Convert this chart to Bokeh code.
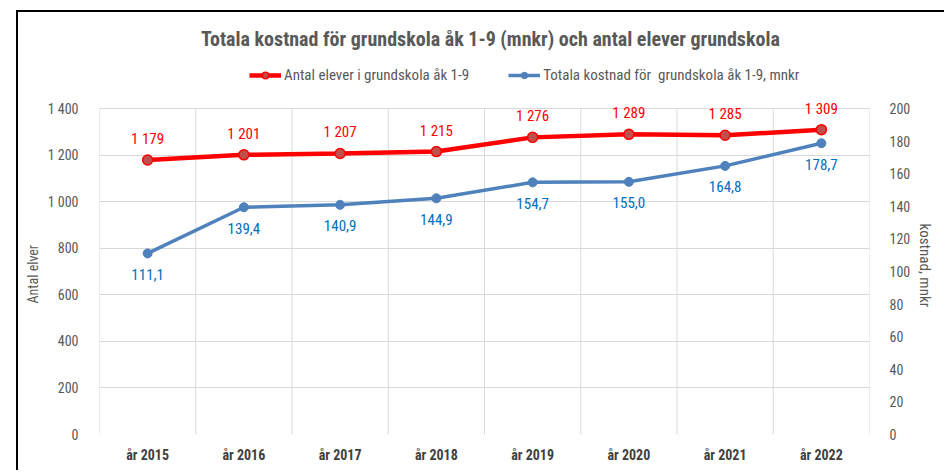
import math
from bokeh.plotting import figure
from bokeh.models import (Range1d, LinearAxis, FixedTicker, Legend, LegendItem,
                          Label, ColumnDataSource, Title)
from bokeh.embed import file_html
from bokeh.resources import INLINE
from bokeh.core.properties import value

years = ["år 2015", "år 2016", "år 2017", "år 2018", "år 2019", "år 2020", "år 2021", "år 2022"]
elever = [1179, 1201, 1207, 1215, 1276, 1289, 1285, 1309]
kostnad = [111.1, 139.4, 140.9, 144.9, 154.7, 155.0, 164.8, 178.7]
left_ticks = [0, 200, 400, 600, 800, 1000, 1200, 1400]
right_ticks = [0, 20, 40, 60, 80, 100, 120, 140, 160, 180, 200]
LEFT_MAX, RIGHT_MAX = 1400, 200

FONT = "Roboto Condensed"
GREY = "#595959"

# layout (pixels)
W, H = 928, 460
FRAME_H = 422          # frame from canvas top to axis baseline
PLOT_H = 326           # height of the 0..1400 value band
ymax_l = LEFT_MAX * FRAME_H / PLOT_H
ymax_r = RIGHT_MAX * FRAME_H / PLOT_H

n = len(years)
xs = [i + 0.5 for i in range(n)]
src = ColumnDataSource(dict(
    x=xs, elever=elever, kostnad=kostnad,
    el_lab=[f"{v:,}".replace(",", " ") for v in elever],
    ko_lab=[f"{v:.1f}".replace(".", ",") for v in kostnad],
))
bounds = list(range(n + 1))

p = figure(width=W, height=H, output_backend="svg", toolbar_location=None,
           x_range=Range1d(0, n), y_range=Range1d(0, ymax_l),
           min_border_left=80, min_border_right=69, min_border_top=0, min_border_bottom=38)
p.styles = {"margin-left": "16px", "margin-top": "10px",
            "border-left": "2px solid black", "border-top": "2px solid black"}
p.extra_y_ranges = {"k": Range1d(0, ymax_r)}
p.outline_line_color = None
p.background_fill_color = "white"
p.border_fill_color = "white"

# x axis
p.xaxis.ticker = FixedTicker(ticks=xs)
p.xaxis.major_label_overrides = {x: y for x, y in zip(xs, years)}
p.xaxis.major_label_text_font = FONT
p.xaxis.major_label_text_font_style = "bold"
p.xaxis.major_label_text_font_size = "14px"
p.xaxis.major_label_text_color = "#404040"
p.xaxis.major_label_standoff = 6
p.xaxis.axis_line_color = None
p.xaxis.major_tick_line_color = None
p.xaxis.minor_tick_line_color = None

# left axis
ax = p.yaxis[0]
ax.ticker = FixedTicker(ticks=left_ticks)
ax.major_label_overrides = {t: f"{t:,}".replace(",", " ") for t in left_ticks}
ax.major_label_text_font = FONT
ax.major_label_text_font_size = "14px"
ax.major_label_text_color = GREY
ax.axis_line_color = None
ax.major_tick_line_color = None
ax.minor_tick_line_color = None
ax.major_label_standoff = 15

# right axis
rax = LinearAxis(y_range_name="k", ticker=FixedTicker(ticks=right_ticks))
rax.major_label_text_font = FONT
rax.major_label_text_font_size = "14px"
rax.major_label_text_color = GREY
rax.axis_line_color = None
rax.major_tick_line_color = None
rax.minor_tick_line_color = None
rax.major_label_standoff = 14
p.add_layout(rax, "right")

# axis titles
p.add_layout(Title(text="Antal elver", align="left", offset=131, text_font=FONT,
                   text_font_size="14px", text_font_style="normal", text_color=GREY,
                   standoff=8), "left")
right_title = "kostnad, mnkr"
try:
    rax.axis_label_orientation = -math.pi / 2
    rax.axis_label = right_title + "\u00a0" * 38
    rax.axis_label_text_font = FONT
    rax.axis_label_text_font_size = "15px"
    rax.axis_label_text_font_style = "normal"
    rax.axis_label_text_color = GREY
    rax.axis_label_standoff = 12
except Exception:
    rax.axis_label = None
    p.add_layout(Title(text=right_title, align="right", offset=114, text_font=FONT,
                       text_font_size="15px", text_font_style="normal", text_color=GREY,
                       standoff=8), "right")

# grids
p.xgrid.visible = False
p.ygrid.grid_line_color = "#d9d9d9"
p.ygrid.ticker = FixedTicker(ticks=left_ticks)
p.segment(x0=bounds, x1=bounds, y0=[0] * len(bounds), y1=[LEFT_MAX] * len(bounds),
          line_color="#d9d9d9", line_width=1)

# series
r1 = p.line("x", "elever", source=src, line_color="#ff0000", line_width=4.5)
r1m = p.scatter("x", "elever", source=src, size=10, fill_color="#c0504d",
                line_color="#ff0000", line_width=1.5)
r2 = p.line("x", "kostnad", source=src, y_range_name="k", line_color="#4f81bd", line_width=3.5)
r2m = p.scatter("x", "kostnad", source=src, y_range_name="k", size=9,
                fill_color="#4f81bd", line_color="#4f81bd")

p.text("x", "elever", text="el_lab", source=src, text_font=value(FONT),
       text_font_size="15px", text_color="#ff0000", text_align="center",
       text_baseline="middle", y_offset=-21)
p.text("x", "kostnad", text="ko_lab", source=src, y_range_name="k", text_font=value(FONT),
       text_font_size="15px", text_color="#0070c0", text_align="center",
       text_baseline="middle", y_offset=21)

# legend
legend = Legend(items=[LegendItem(label="Antal elever i grundskola åk 1-9", renderers=[r1, r1m]),
                       LegendItem(label="Totala kostnad för  grundskola åk 1-9, mnkr", renderers=[r2, r2m])],
                location=(150, 350), orientation="horizontal",
                label_text_font=FONT, label_text_font_size="15px", label_text_color=GREY,
                glyph_width=32, glyph_height=16, label_height=16, label_standoff=3,
                spacing=39, padding=0, margin=0, border_line_color=None,
                background_fill_alpha=0)
p.add_layout(legend, "center")

# chart title
p.add_layout(Label(x=n / 2, y=LEFT_MAX * 396 / PLOT_H, x_offset=6,
                   text="Totala kostnad för grundskola åk 1-9 (mnkr) och antal elever grundskola",
                   text_font=FONT, text_font_style="bold", text_font_size="20px",
                   text_color=GREY, text_align="center", text_baseline="middle"))

open("out.html", "w").write(file_html(p, INLINE))
